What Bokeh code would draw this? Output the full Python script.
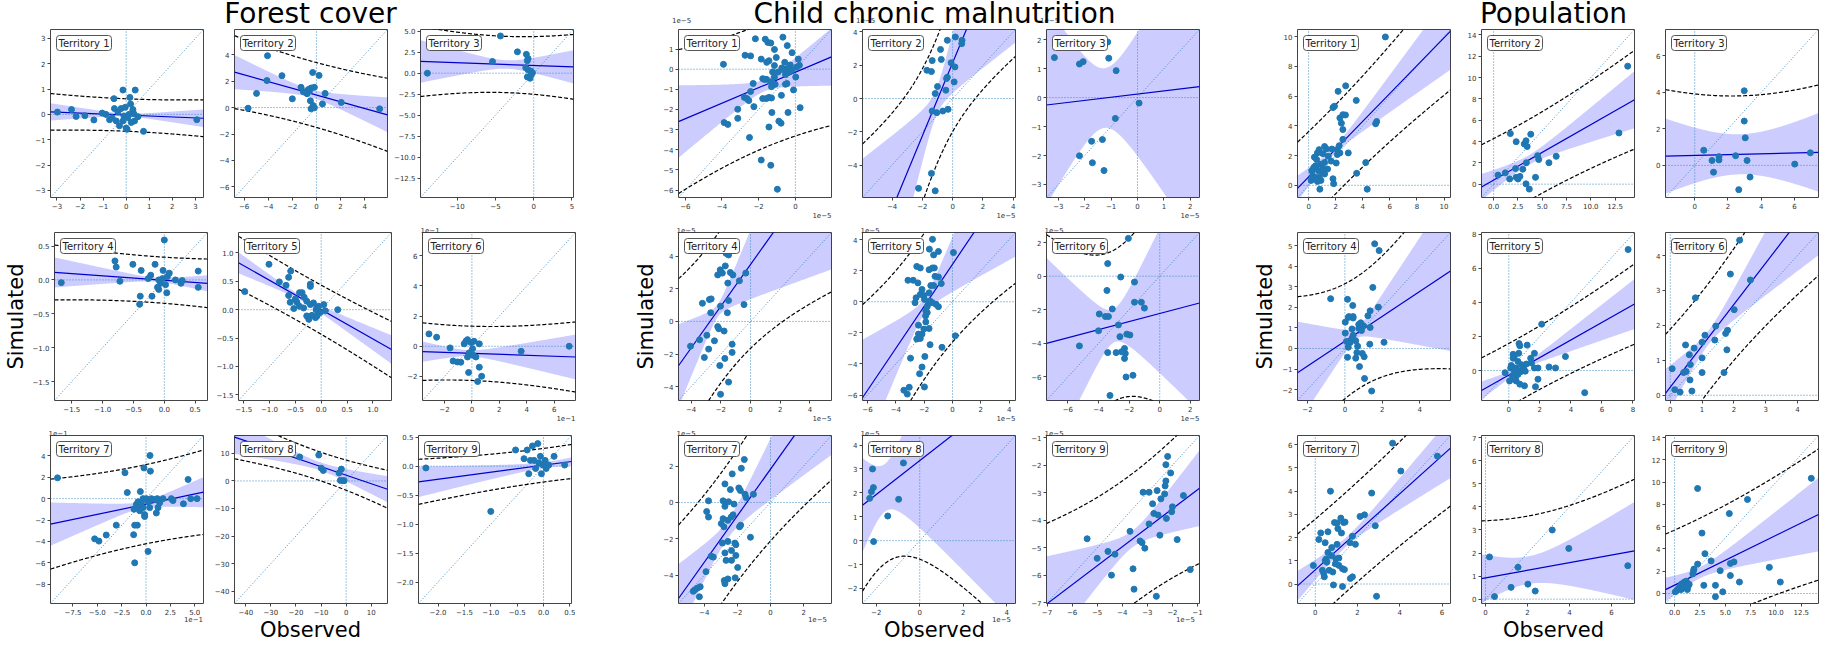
import numpy as np
from bokeh.plotting import figure
from bokeh.models import Range1d, FixedTicker, CustomJSTickFormatter, Label, Title, Div
from bokeh.layouts import row, column
from bokeh.embed import file_html
from bokeh.resources import INLINE

# ------------------------------------------------------------------ data
group_titles = ["Forest cover", "Child chronic malnutrition", "Population"]
territory_names = ["Territory 1", "Territory 2", "Territory 3", "Territory 4", "Territory 5",
                   "Territory 6", "Territory 7", "Territory 8", "Territory 9"]
x_label = "Observed"
y_label = "Simulated"

# ---- Forest cover: observed / simulated points
fc1_pts = [(-2.98, 0.09), (-2.37, 0.19), (-2.17, -0.08), (-1.79, -0.05), (-1.40, -0.22), (-1.04, 0.05),
           (-0.88, 0.0), (-0.72, -0.21), (-0.53, 0.62), (-0.14, 0.96), (0.39, 0.96), (0.16, 0.67),
           (0.19, 0.41), (-0.04, 0.28), (-0.22, 0.23), (-0.51, 0.23), (-0.36, 0.10), (0.29, 0.19),
           (0.33, 0.03), (0.51, -0.09), (0.07, -0.13), (-0.14, -0.26), (-0.43, -0.26), (-0.29, -0.45),
           (0.0, -0.54), (0.22, -0.32), (0.12, 0.0), (-0.10, -0.06), (-0.61, -0.13), (0.75, -0.67),
           (3.06, -0.21), (0.04, -0.59), (0.36, -0.26)]
fc2_pts = [(-4.06, 3.92), (-4.11, 2.04), (-4.97, 1.07), (-5.67, -0.05), (-2.86, 2.41), (-2.0, 0.66),
           (-1.28, 1.53), (-1.08, 1.19), (-0.78, 1.05), (-0.67, 1.36), (-0.44, 1.48), (-0.17, 1.53),
           (-0.31, 2.65), (0.22, 2.43), (-0.5, 0.51), (-0.28, 0.15), (-0.44, -0.10), (-0.17, -0.02),
           (0.5, 0.27), (0.72, 1.07), (2.06, 0.39), (5.25, -0.10), (-0.86, 1.19), (-0.58, 1.24)]
fc3_pts = [(-13.9, 0.0), (-4.35, 4.43), (-5.39, 1.39), (-2.13, 2.54), (-0.96, 2.24), (-0.74, 1.74),
           (-0.83, 1.49), (-1.04, 0.65), (-0.74, 0.40), (-0.39, 0.25), (-0.17, 0.05), (-0.83, -0.45),
           (-0.48, -0.60), (-0.30, -0.15)]
fc4_pts = [(-1.67, -0.04), (-0.80, 0.28), (-0.78, 0.19), (-0.72, -0.02), (-0.51, 0.23), (-0.375, 0.14),
           (-0.39, -0.24), (-0.40, -0.36), (-0.20, -0.24), (-0.15, 0.23), (-0.22, 0.07), (-0.26, 0.02),
           (-0.09, -0.14), (-0.06, -0.05), (-0.03, 0.02), (-0.02, 0.14), (0.0, 0.59), (0.02, -0.07),
           (0.04, -0.19), (0.05, 0.05), (0.08, 0.10), (0.18, 0.0), (0.27, -0.05), (0.29, -0.01),
           (0.55, 0.13), (0.55, -0.11), (-0.09, 0.0), (-0.11, -0.11)]
fc5_pts = [(-1.48, 0.32), (-1.01, 0.80), (-0.81, 0.49), (-0.68, 0.43), (-0.63, 0.57), (-0.59, 0.68),
           (-0.63, 0.25), (-0.60, 0.13), (-0.53, 0.02), (-0.47, 0.13), (-0.42, 0.30), (-0.37, 0.30),
           (-0.33, 0.22), (-0.50, 0.19), (-0.21, 0.45), (-0.21, 0.41), (-0.28, 0.15), (-0.21, 0.09),
           (-0.15, 0.12), (-0.10, 0.0), (-0.05, 0.06), (0.05, 0.09), (-0.02, -0.05), (0.08, -0.02),
           (-0.11, -0.14), (-0.18, -0.10), (-0.24, -0.17), (-0.28, -0.11), (-0.08, -0.11), (0.32, 0.0),
           (-0.34, 0.03), (-0.42, 0.06)]
fc6_pts = [(-3.13, 0.82), (-2.57, 0.60), (-1.59, -0.11), (-1.37, -0.98), (-1.05, -1.04), (-0.81, -1.06),
           (-0.56, 0.16), (-0.44, 0.33), (-0.32, 0.44), (-0.07, 0.25), (0.05, -0.16), (-0.2, -0.44),
           (-0.32, -0.71), (0.10, -0.60), (0.29, -0.71), (-0.24, -1.74), (0.42, -2.34), (0.54, -1.39),
           (0.71, -1.99), (0.54, 0.16), (0.15, 0.33), (3.59, -0.33), (7.09, 0.0)]
fc7_pts = [(-9.08, 1.94), (-5.27, -3.76), (-4.83, -3.97), (-4.08, -3.40), (-3.05, -2.48), (-2.16, 2.42),
           (-1.92, 0.57), (-1.23, -0.99), (-1.16, -2.48), (-0.89, -2.48), (-1.27, -3.37), (-1.16, -6.0),
           (-0.58, 0.66), (-0.21, 2.87), (0.41, 4.03), (0.45, 2.57), (-0.14, -1.49), (-0.14, -1.67),
           (0.21, -4.93), (-0.99, -0.54), (-0.82, -0.3), (-0.65, -0.69), (-0.48, -0.39), (-0.31, 0.0),
           (0.03, 0.0), (0.21, -0.3), (0.38, -0.84), (0.55, 0.0), (0.89, -0.09), (1.16, 0.0),
           (1.23, -0.84), (1.06, -1.34), (1.40, -0.39), (1.75, 0.0), (2.60, 0.0), (2.77, -0.18),
           (3.84, -0.48), (4.32, 1.79), (4.59, 0.0), (5.24, 0.0), (-0.31, -0.84), (-0.65, -1.13)]
fc8_pts = [(-18.5, 8.7), (-10.9, 9.4), (-9.9, 4.65), (-9.1, 3.8), (-2.8, 2.9), (-1.9, 4.3),
           (-2.3, 0.2), (-1.2, 0.1), (-0.8, 0.1)]
fc9_pts = [(-2.23, -0.03), (-1.0, -0.78), (-0.53, 0.28), (-0.37, 0.13), (-0.31, 0.28), (-0.25, 0.10),
           (-0.21, 0.35), (-0.28, -0.13), (-0.15, -0.04), (-0.11, 0.39), (-0.09, 0.06), (-0.06, 0.17),
           (-0.04, -0.13), (-0.01, 0.02), (0.03, 0.10), (0.05, -0.04), (0.10, 0.02), (0.20, 0.17),
           (0.40, 0.02), (-0.18, 0.10)]

# ---- Child chronic malnutrition (x1e-5)
cm1_pts = [(-3.92, 0.24), (-3.88, -2.65), (-3.68, -2.74), (-3.14, -1.99), (-3.14, -2.44), (-2.74, 0.69),
           (-2.44, 0.66), (-2.78, -1.40), (-2.64, -1.46), (-2.54, -1.56), (-2.44, -1.11), (-2.30, -0.71),
           (-2.26, -1.86), (-2.50, -3.39), (-2.18, 1.51), (-1.86, -4.51), (-1.86, 0.50), (-1.78, -0.47),
           (-1.64, 1.49), (-1.56, 0.34), (-1.50, 1.33), (-1.44, 0.42), (-1.58, -0.50), (-1.68, -0.51),
           (-1.78, -1.46), (-1.58, -1.46), (-1.44, -1.40), (-1.30, -1.43), (-1.44, -2.87), (-1.34, -4.77),
           (-1.34, 1.30), (-1.34, -0.63), (-1.30, -0.87), (-1.28, -2.15), (-1.24, -0.14), (-1.14, 0.98),
           (-1.14, 0.18), (-1.14, -0.39), (-1.18, -0.75), (-1.10, -0.75), (-1.04, 0.58), (-0.98, -5.96),
           (-0.90, -2.58), (-0.78, -2.68), (-0.76, -1.30), (-0.74, 0.06), (-0.68, 1.59), (-0.58, 0.34),
           (-0.54, -0.27), (-0.54, -0.75), (-0.46, 0.02), (-0.44, 1.17), (-0.40, -2.15), (-0.46, -0.71),
           (-0.38, -0.14), (-0.34, 0.05), (-0.28, 0.21), (-0.20, -0.06), (-0.18, 0.82), (-0.10, -1.03),
           (0.02, -0.39), (0.06, 0.10), (0.16, 0.50), (0.22, 0.19), (0.26, -1.91), (-0.94, -0.14),
           (-0.70, -0.02)]
cm2_pts = [(-1.70, 1.70), (-1.40, 1.62), (-1.35, 2.28), (-0.75, 2.35), (-0.80, 2.95), (-0.35, 3.50),
           (0.18, 3.70), (0.62, 3.50), (0.60, 3.30), (-0.10, 2.15), (0.15, 1.90), (-0.35, 1.28),
           (-0.40, 1.20), (-1.00, 0.72), (-1.15, 0.30), (-0.45, 0.50), (0.10, 1.00), (-1.35, -0.75),
           (-1.05, -0.85), (-0.65, -0.75), (-0.30, -0.65), (-1.40, -4.50), (-2.25, -5.40), (-1.15, -5.55)]
cm3_pts = [(-3.15, 1.38), (-2.20, 1.16), (-2.06, 1.24), (-1.13, 1.92), (-1.09, 1.36), (-0.81, 0.93),
           (0.06, -0.19), (-0.84, -0.72), (-2.20, -2.01), (-1.74, -1.51), (-1.33, -1.45), (-1.71, -2.25),
           (-1.27, -2.52)]
cm4_pts = [(-4.04, -1.52), (-3.43, -1.13), (-3.24, 1.11), (-2.94, -0.85), (-2.82, -1.70), (-3.11, -2.21),
           (-2.77, 1.34), (-2.68, 0.53), (-2.65, 1.38), (-2.43, -1.19), (-2.21, -0.32), (-2.14, -0.45),
           (-2.21, 2.85), (-2.04, 3.16), (-2.02, 0.93), (-2.07, -2.71), (-2.02, -4.47), (-1.90, 2.96),
           (-1.78, -0.59), (-1.73, -2.27), (-1.70, 3.40), (-1.65, 4.17), (-1.48, 4.07), (-1.53, 2.35),
           (-1.56, 0.53), (-1.48, 1.28), (-1.48, -3.72), (-1.36, 3.0), (-1.24, -1.90), (-1.24, -1.40),
           (-1.19, 2.85), (-0.75, 2.49), (-0.44, 1.03), (-0.32, 2.96), (-1.41, 4.37)]
cm5_pts = [(-3.43, -5.69), (-3.19, -5.94), (-3.05, -5.5), (-2.96, -3.63), (-3.14, 1.38), (-2.77, 1.38),
           (-2.44, 1.21), (-2.52, 2.27), (-2.27, 2.17), (-2.64, -0.06), (-2.57, 0.25), (-2.27, 0.47),
           (-2.15, 0.79), (-2.02, 0.40), (-2.40, -1.51), (-2.52, -2.40), (-2.40, -2.08), (-2.27, -2.36),
           (-2.15, -2.08), (-2.32, -4.63), (-2.15, -4.20), (-1.98, -5.48), (-1.95, -3.52), (-1.58, -2.76),
           (-1.65, -1.72), (-1.88, -1.30), (-1.90, -0.91), (-1.88, -0.59), (-1.78, -0.32), (-1.65, -0.06),
           (-1.58, 0.04), (-1.41, -0.06), (-1.16, -0.17), (-0.99, -0.32), (-1.65, 2.06), (-1.41, 2.17),
           (-1.28, 2.17), (-1.63, 3.38), (-1.41, 4.01), (-1.33, 3.01), (-0.99, 3.23), (-1.23, 1.63),
           (-0.99, 1.59), (-1.53, 1.04), (-1.33, 1.04), (-0.79, 1.17), (-1.98, 0.15), (-1.78, -0.70),
           (-2.02, -1.76), (0.07, 3.16), (0.2, -2.19), (-0.74, -2.93), (-1.65, 0.57)]
cm6_pts = [(-5.25, -4.15), (-4.00, -3.25), (-3.95, -2.25), (-3.55, -2.40), (-3.35, -2.40), (-3.10, -1.95),
           (-3.45, -0.85), (-3.40, 0.75), (-2.55, -0.05), (-1.65, -0.35), (-1.65, -1.55), (-1.20, -1.55),
           (-1.00, -1.90), (-2.70, -2.90), (-2.60, -3.60), (-2.15, -3.45), (-1.95, -3.50), (-2.30, -4.30),
           (-2.25, -4.60), (-2.50, -4.50), (-2.85, -4.55), (-2.30, -4.90), (-3.40, -4.55), (-2.20, -6.00),
           (-1.75, -5.90), (-3.25, -7.10), (-2.05, 2.25)]
cm7_pts = [(-4.66, -4.88), (-4.55, -4.79), (-4.40, -4.70), (-4.24, -4.63), (-4.29, -5.18), (-3.89, -3.80),
           (-3.85, -0.50), (-3.74, -0.80), (-3.74, 0.09), (-3.58, -2.95), (-3.45, -3.0), (-2.97, -1.16),
           (-2.90, -2.23), (-2.81, -1.34), (-2.86, 0.09), (-2.75, -0.21), (-2.75, 1.02), (-2.75, -2.77),
           (-2.79, -4.29), (-2.75, -4.46), (-2.68, -3.18), (-2.57, -4.20), (-2.57, -0.98), (-2.53, 0.04),
           (-2.57, -2.14), (-2.42, 0.71), (-2.37, -0.80), (-2.31, 1.57), (-2.26, -0.68), (-2.20, -0.09),
           (-2.35, -2.64), (-2.35, -3.18), (-2.09, -2.32), (-2.15, -2.23), (-2.09, -2.91), (-2.13, -4.14),
           (-1.98, -3.57), (-1.91, 0.80), (-1.82, 0.66), (-1.80, -1.25), (-1.87, -1.34), (-1.76, 1.88),
           (-1.58, 2.36), (-1.54, 0.45), (-1.47, 0.27), (-1.21, -1.91), (-1.03, 0.45), (-2.86, -0.89)]
cm8_pts = [(-2.30, 1.77), (-2.22, 2.05), (-2.13, 2.22), (-2.17, 3.0), (-2.12, -0.04), (-1.47, 1.03),
           (-0.97, 1.73), (-0.75, 3.25)]
cm9_pts = [(-5.4, -4.67), (-5.0, -5.38), (-4.57, -5.13), (-4.43, -5.99), (-4.29, -5.23), (-3.69, -4.40),
           (-3.57, -5.76), (-3.53, -6.50), (-3.29, -4.75), (-3.21, -4.81), (-3.10, -5.01), (-3.17, -2.98),
           (-2.93, -2.98), (-2.79, -3.40), (-2.74, -3.75), (-2.93, -4.13), (-2.61, -2.92), (-2.57, -3.81),
           (-2.64, -6.76), (-2.46, -3.22), (-2.50, -4.54), (-2.31, -3.04), (-2.29, -2.75), (-2.26, -2.57),
           (-2.24, -3.93), (-2.26, -1.98), (-2.19, -1.68), (-2.07, -2.28), (-2.03, -3.69), (-2.00, -3.51),
           (-1.81, -4.70), (-1.56, -3.10), (-1.29, -5.79)]

# ---- Population
pp1_pts = [(5.67, 9.98), (2.18, 6.32), (2.74, 6.69), (1.80, 5.23), (1.91, 5.32), (3.52, 5.71), (2.31, 4.53),
           (2.53, 4.75), (2.72, 4.73), (2.42, 4.18), (2.53, 3.75), (4.95, 4.14), (5.03, 4.29), (2.53, 3.09),
           (2.93, 2.18), (2.26, 2.66), (2.31, 2.18), (2.12, 2.40), (2.12, 2.07), (1.72, 2.44), (1.67, 1.63),
           (2.04, 1.50), (1.18, 2.61), (1.32, 2.44), (0.78, 2.40), (0.65, 2.18), (1.05, 2.13), (0.43, 1.89),
           (0.59, 1.74), (0.91, 1.42), (1.18, 1.53), (1.40, 1.09), (1.05, 1.13), (0.51, 1.31), (0.38, 1.20),
           (0.73, 0.98), (1.05, 0.87), (1.18, 0.76), (0.24, 0.98), (0.30, 0.65), (0.46, 0.54), (0.78, 0.54),
           (0.19, 0.33), (0.46, 0.44), (0.65, 0.26), (0.83, -0.26), (1.80, 0.44), (1.85, 0.11), (4.22, 1.53),
           (3.55, 0.81), (4.33, -0.26), (0.91, 0.33), (1.45, 1.96)]
pp2_pts = [(0.45, 0.85), (1.2, 1.06), (1.65, 0.49), (1.72, 4.74), (2.32, 3.98), (2.25, 1.46), (2.32, 0.64),
           (2.51, 0.49), (2.70, 0.73), (3.0, 1.40), (3.15, 3.77), (3.33, 4.07), (3.45, 3.53), (3.37, 2.01),
           (3.33, 0.03), (3.67, -0.46), (3.82, 4.68), (4.31, 0.64), (4.53, 2.67), (4.64, 2.31), (5.69, 2.01),
           (6.44, 2.61), (12.9, 4.80), (13.8, 11.06)]
pp3_pts = [(0.54, 0.83), (1.04, 0.27), (1.13, -0.37), (1.46, 0.48), (1.46, 0.30), (2.46, 0.53), (2.65, -1.33),
           (2.98, 4.09), (2.98, 2.43), (3.04, 1.51), (3.15, 0.27), (3.33, -0.64), (6.02, 0.07), (6.96, 0.69)]
pp4_pts = [(-0.76, 2.42), (0.02, 1.28), (0.18, 1.51), (0.42, 2.09), (0.44, 1.55), (0.44, 1.48), (0.02, 0.75),
           (0.08, 0.34), (0.18, 0.06), (0.14, -0.43), (0.28, 0.29), (0.38, 0.49), (0.44, 0.64), (0.58, 0.37),
           (0.58, -0.47), (0.64, -0.20), (0.68, 0.11), (0.74, 0.98), (0.74, 1.17), (0.85, 1.25), (0.89, 0.87),
           (0.78, -0.88), (0.99, 1.10), (0.93, -0.24), (1.03, -0.40), (1.05, -1.46), (1.23, 1.59), (1.35, 1.83),
           (1.33, 0.21), (1.35, 1.02), (1.43, -2.07), (1.49, 2.97), (1.59, 5.09), (1.83, 4.76), (1.79, 2.01),
           (2.09, 0.30), (0.38, 0.95), (0.14, 2.39), (0.22, 1.55)]
pp5_pts = [(2.12, 2.72), (7.69, 7.10), (4.89, -1.30), (3.65, 0.82), (2.59, 0.21), (3.01, 0.15), (1.88, 0.15),
           (1.88, -0.51), (1.72, -0.95), (1.65, 1.01), (1.65, 0.15), (1.46, 0.44), (1.41, 0.72), (1.18, 1.49),
           (0.94, 0.15), (1.01, -0.90), (0.71, -0.80), (0.66, 1.58), (0.71, 1.45), (0.64, 1.01), (0.28, 0.95),
           (0.28, 0.72), (0.35, 0.82), (0.59, 0.53), (0.82, 0.34), (0.89, 0.06), (0.47, 0.15), (0.35, -0.13),
           (0.24, -0.32), (0.12, 0.15), (0.05, -0.61), (0.42, -0.51), (0.59, -0.23), (0.75, -0.08), (1.06, -0.04),
           (0.16, 0.30), (0.47, -0.61), (1.13, 0.38), (-0.24, -0.13)]
pp6_pts = [(0.06, 0.76), (0.14, 0.16), (0.31, 0.09), (0.48, 1.44), (0.42, 0.65), (0.50, 0.68), (0.60, 1.16),
           (0.62, 0.44), (0.63, 0.88), (0.68, 0.12), (0.75, 1.35), (0.79, 2.79), (1.0, 1.52), (1.0, 1.07),
           (1.0, 0.65), (1.09, 1.72), (1.40, 1.58), (1.43, 1.98), (1.69, 0.65), (1.74, 1.77), (1.80, 1.86),
           (1.78, 1.30), (1.89, 3.47), (2.01, 2.45), (2.18, 4.44), (2.52, 3.30)]
pp7_pts = [(-0.09, 0.80), (0.17, 1.92), (0.26, 2.20), (0.34, 0.59), (0.40, 0.45), (0.43, 0.31), (0.47, 1.78),
           (0.47, 1.01), (0.52, 1.08), (0.55, 0.94), (0.60, 2.25), (0.66, 0.59), (0.72, 4.0), (0.78, 1.22),
           (0.83, 0.52), (0.86, -0.04), (0.91, 2.65), (0.98, 1.08), (0.95, 0.87), (1.03, 1.71), (1.07, 2.39),
           (1.03, 2.63), (1.12, 0.80), (1.12, 1.12), (1.21, 2.84), (1.24, 2.20), (1.29, -0.11), (1.29, 0.66),
           (1.34, 2.65), (1.41, 2.67), (1.38, 0.62), (1.64, 1.78), (1.66, 0.24), (1.76, 0.31), (1.76, 2.06),
           (1.90, 1.71), (2.12, 2.91), (2.33, 2.98), (2.67, 3.92), (2.84, 2.51), (2.90, -0.53), (4.05, 4.87),
           (3.66, 6.07), (5.78, 5.51), (0.60, 1.36), (0.78, 1.57)]
pp8_pts = [(0.19, 1.83), (0.43, 0.11), (1.22, 0.51), (1.55, 1.38), (2.02, 0.65), (2.37, 0.35), (3.18, 3.0),
           (3.97, 2.2), (6.78, 1.45)]
pp9_pts = [(0.07, 0.15), (0.25, 0.29), (0.36, 0.44), (0.54, 0.65), (0.65, 0.35), (0.72, 0.88), (0.90, 0.53),
           (0.97, 1.03), (1.08, 0.73), (1.15, 1.11), (1.26, 0.35), (1.33, 0.65), (1.44, 0.82), (1.80, 1.76),
           (1.87, 2.05), (1.91, 2.20), (2.27, 2.64), (2.27, 9.44), (2.70, 5.43), (2.88, 0.73), (2.99, 3.58),
           (3.60, 2.93), (4.03, 0.73), (4.03, -0.29), (4.50, 2.05), (4.75, 0.15), (5.40, 7.18), (5.50, 2.70),
           (5.50, 1.61), (5.86, 2.84), (6.40, 1.03), (7.19, 8.45), (9.35, 2.35), (10.43, 1.03), (13.49, 10.35)]

# ---- axis limits (same on both axes), fitted line (intercept, slope),
#      band read-offs (centre x, conf half-width at centre, spread, prediction half-width at centre)
fc_lims = [(-3.28, 3.35), (-6.8, 5.9), (-14.8, 5.2), (-1.78, 0.70), (-1.60, 1.36), (-3.6, 7.55),
           (-9.8, 5.9), (-44.5, 16.5), (-2.37, 0.53)]
fc_lines = [(-0.025, -0.038), (0.95, -0.254), (0.92, -0.032), (-0.005, -0.065), (0.0, -0.517),
            (-0.47, -0.032), (-0.52, 0.19), (2.1, -0.31), (0.017, 0.121)]
fc_bands = [(0.0, 0.05, 0.103, 0.64), (-0.5, 0.3, 0.2, 2.45), (-3.5, 0.5, 0.22, 3.35), (-0.15, 0.03, 0.135, 0.34),
            (-0.35, 0.04, 0.145, 0.43), (-0.2, 0.2, 0.19, 1.8), (-0.5, 0.3, 0.215, 3.7), (-10.0, 1.5, 0.17, 5.2),
            (0.05, 0.05, 0.107, 0.29)]
fc_steps = [(1, 1), (2, 2), (5, 2.5), (0.5, 0.5), (0.5, 0.5), (2, 2), (2.5, 2), (10, 10), (0.5, 0.5)]
fc_offsets = ["", "", "", "", "", "1e\u22121", "1e\u22121", "", ""]

cm_lims = [(-6.37, 1.97), (-5.95, 4.15), (-3.45, 2.35), (-4.85, 5.45), (-6.35, 4.45), (-7.4, 2.6),
           (-5.55, 3.68), (-2.63, 4.4), (-7.02, -0.92)]
cm_lines = [(-0.15, 0.385), (2.15, 2.2), (0.12, 0.109), (3.49, 1.28), (2.4, 1.35), (-2.22, 0.24),
            (1.83, 1.28), (3.35, 0.71), (-2.2, 0.69)]
cm_band_axes = [None, None, None, None, None, (-1.45, 0.5), None, None, None]
cm_bands = [(-1.7, 0.3, 0.38, 3.1), (-1.1, 0.8, 1.5, 3.8), (-1.25, 1.03, 1.5, 3.8), (-2.2, 0.4, 0.95, 4.7),
            (-2.0, 0.5, 0.85, 4.7), (-3.0, 1.0, 1.4, 4.5), (-2.6, 0.5, 0.62, 3.6), (-1.6, 1.0, 1.65, 3.17),
            (-3.6, 0.3, 0.5, 2.38)]
cm_steps = [(2, 1), (2, 2), (1, 1), (2, 2), (2, 2), (2, 2), (2, 2), (2, 1), (1, 1)]
cm_offsets = ["1e\u22125"] * 9

pp_lims = [(-0.82, 10.48), (-1.25, 14.5), (-1.76, 7.45), (-2.53, 5.64), (-1.76, 8.1), (-0.15, 4.66),
           (-0.84, 6.4), (-0.19, 7.1), (-0.9, 14.2)]
pp_lines = [(0.557, 0.936), (0.38, 0.52), (0.55, 0.022), (0.35, 0.607), (-0.27, 0.515), (0.23, 1.185),
            (0.61, 0.82), (0.92, 0.165), (0.75, 0.447)]
pp_bands = [(1.9, 0.25, 0.3, 3.0), (3.5, 0.45, 0.24, 3.8), (2.7, 1.1, 0.39, 3.2), (0.65, 0.25, 0.78, 2.75),
            (0.8, 0.12, 0.2, 1.85), (1.2, 0.2, 0.5, 1.55), (1.5, 0.2, 0.26, 2.15), (2.0, 0.6, 0.4, 2.35),
            (2.5, 0.5, 0.28, 4.9)]
pp_steps = [(2, 2), (2.5, 2), (2, 2), (2, 1), (2, 2), (1, 1), (2, 1), (2, 1), (2.5, 2)]
pp_offsets = [""] * 9

# ------------------------------------------------------------------ layout / style
FW, FH = 153, 168
BT_FIRST, BT = 4, 10
BB, BB_LAST = 25, 14
BL, BR = 27, 4
GROUP_L = [50, 99, 94]
TITLE_H = 25
FOOT_H = 26
FONT = "DejaVu Sans"
DOT = "#3a8ac0"
FRAME = "#444444"

group_start = []
acc = 0
for gi in range(3):
    group_start.append(acc)
    acc += GROUP_L[gi] + FW + 2 * (BR + BL + FW) + (1 if gi == 2 else BR)
TOTAL_W = acc


def tick_values(lo, hi, step):
    vals = []
    v = np.ceil(lo / step - 1e-9) * step
    while v <= hi + 1e-9:
        vals.append(round(float(v), 6))
        v += step
    return vals


def tick_formatter(step):
    dec = 0 if float(step).is_integer() else 1
    return CustomJSTickFormatter(args=dict(d=dec), code="""
const v = Math.abs(tick) < 1e-9 ? 0 : tick;
return (v < 0 ? '\u2212' : '') + Math.abs(v).toFixed(d);
""")


def strip_div(items, height):
    parts = ['<div style="position:relative;width:%dpx;height:%dpx;overflow:visible;'
             'font-family:\'DejaVu Sans\',sans-serif;color:black;">' % (TOTAL_W, height)]
    for (x, top, text, size, align, color) in items:
        shift = {"left": "0", "center": "-50%", "right": "-100%"}[align]
        parts.append('<span style="position:absolute;left:%.1fpx;top:%.1fpx;font-size:%s;line-height:1;'
                     'white-space:nowrap;color:%s;transform:translateX(%s);">%s</span>'
                     % (x, top, size, color, shift, text))
    parts.append('</div>')
    return Div(text="".join(parts), width=TOTAL_W, height=height, margin=(0, 0, 0, 0))


title_items = []
foot_items = []


def make_panel(gi, idx, pts, lim, line, band, axis, steps, offset):
    r, c = divmod(idx, 3)
    lo, hi = lim
    bl = GROUP_L[gi] if c == 0 else BL
    br = 1 if (gi == 2 and c == 2) else BR
    bt = BT_FIRST if r == 0 else BT
    bb = BB_LAST if r == 2 else BB
    p = figure(frame_width=FW, frame_height=FH, x_range=Range1d(lo, hi), y_range=Range1d(lo, hi),
               toolbar_location=None, output_backend="svg",
               min_border_left=bl, min_border_right=br, min_border_top=bt, min_border_bottom=bb)
    p.outline_line_color = FRAME
    p.outline_line_width = 1
    p.grid.visible = False
    p.background_fill_color = "white"
    p.border_fill_color = "white"

    xstep, ystep = steps
    p.xaxis.ticker = FixedTicker(ticks=tick_values(lo, hi, xstep))
    p.yaxis.ticker = FixedTicker(ticks=tick_values(lo, hi, ystep))
    p.xaxis.formatter = tick_formatter(xstep)
    p.yaxis.formatter = tick_formatter(ystep)
    for ax in (p.xaxis[0], p.yaxis[0]):
        ax.axis_line_color = None
        ax.major_tick_line_color = FRAME
        ax.major_tick_out = 3
        ax.major_tick_in = 0
        ax.minor_tick_line_color = None
        ax.major_label_text_font = FONT
        ax.major_label_text_font_size = "7px"
        ax.major_label_text_color = "#333333"
        ax.major_label_standoff = 2
        ax.axis_label_text_font = FONT
        ax.axis_label_text_font_size = "21px"
        ax.axis_label_text_font_style = "normal"
        ax.axis_label_text_color = "black"
        ax.axis_label_standoff = 2

    a, b = line
    ca, cb = axis if axis is not None else line
    xbar, c0, k, p0 = band
    xg = np.linspace(lo, hi, 241)
    cen = ca + cb * xg
    d = xg - xbar
    hc = np.sqrt(c0 ** 2 + (k * d) ** 2)
    hp = np.sqrt(p0 ** 2 + (k * d) ** 2)

    p.varea(x=xg, y1=cen - hc, y2=cen + hc, fill_color="#0000ff", fill_alpha=0.2)
    p.line([lo, hi], [lo, hi], line_color=DOT, line_dash="1 2", line_width=1)
    if lo < 0 < hi:
        p.line([0, 0], [lo, hi], line_color=DOT, line_dash="1 2", line_width=1)
        p.line([lo, hi], [0, 0], line_color=DOT, line_dash="1 2", line_width=1)
    p.line(xg, cen + hp, line_color="black", line_dash="4 2", line_width=1.2)
    p.line(xg, cen - hp, line_color="black", line_dash="4 2", line_width=1.2)
    p.line([lo, hi], [a + b * lo, a + b * hi], line_color="#0000cc", line_width=1.2)
    xs = [q[0] for q in pts]
    ys = [q[1] for q in pts]
    p.scatter(xs, ys, size=6, fill_color="#1f77b4", line_color="#1f77b4")

    p.add_layout(Label(x=6, y=FH - 6, x_units="screen", y_units="screen", text=territory_names[idx],
                       text_baseline="top", text_align="left", text_font=FONT, text_font_size="10px",
                       text_color="#222222", background_fill_color="white", border_line_color="#555555",
                       border_line_width=1, padding=2, border_radius=3))

    if offset:
        frame_left = group_start[gi] + GROUP_L[gi] + c * (FW + BR + BL)
        # offset text of the y axis (above the frame)
        if r == 0:
            title_items.append((frame_left - 2, TITLE_H - 7, offset, "7px", "left", "#333333"))
        else:
            p.add_layout(Title(text=offset, align="left", offset=-2, standoff=0, text_font=FONT,
                               text_font_size="7px", text_font_style="normal", text_color="#333333"),
                         "above")
        # offset text of the x axis (below, right)
        if r == 2:
            foot_items.append((frame_left + FW, 0, offset, "7px", "right", "#333333"))
        else:
            p.add_layout(Title(text=offset, align="right", offset=0, standoff=0, text_font=FONT,
                               text_font_size="7px", text_font_style="normal", text_color="#333333",
                               vertical_align="top"),
                         "below")
    if idx == 3:
        p.yaxis.axis_label = y_label
    return p


groups = [
    ([fc1_pts, fc2_pts, fc3_pts, fc4_pts, fc5_pts, fc6_pts, fc7_pts, fc8_pts, fc9_pts],
     fc_lims, fc_lines, fc_bands, [None] * 9, fc_steps, fc_offsets),
    ([cm1_pts, cm2_pts, cm3_pts, cm4_pts, cm5_pts, cm6_pts, cm7_pts, cm8_pts, cm9_pts],
     cm_lims, cm_lines, cm_bands, cm_band_axes, cm_steps, cm_offsets),
    ([pp1_pts, pp2_pts, pp3_pts, pp4_pts, pp5_pts, pp6_pts, pp7_pts, pp8_pts, pp9_pts],
     pp_lims, pp_lines, pp_bands, [None] * 9, pp_steps, pp_offsets),
]

group_layouts = []
for gi, (pts_list, lims, lines, bands, axes, steps, offs) in enumerate(groups):
    panels = [make_panel(gi, i, pts_list[i], lims[i], lines[i], bands[i], axes[i], steps[i], offs[i])
              for i in range(9)]
    group_layouts.append(column(row(*panels[0:3]), row(*panels[3:6]), row(*panels[6:9])))
    centre = group_start[gi] + GROUP_L[gi] + (3 * FW + 2 * (BR + BL)) / 2.0
    title_items.append((centre, 0, group_titles[gi], "28px", "center", "black"))
    foot_items.append((centre, 2.5, x_label, "21px", "center", "black"))

title_div = strip_div(title_items, TITLE_H)
foot_div = strip_div(foot_items, FOOT_H)

layout = column(title_div, row(*group_layouts), foot_div)

with open("out.html", "w") as f:
    f.write(file_html(layout, INLINE))
